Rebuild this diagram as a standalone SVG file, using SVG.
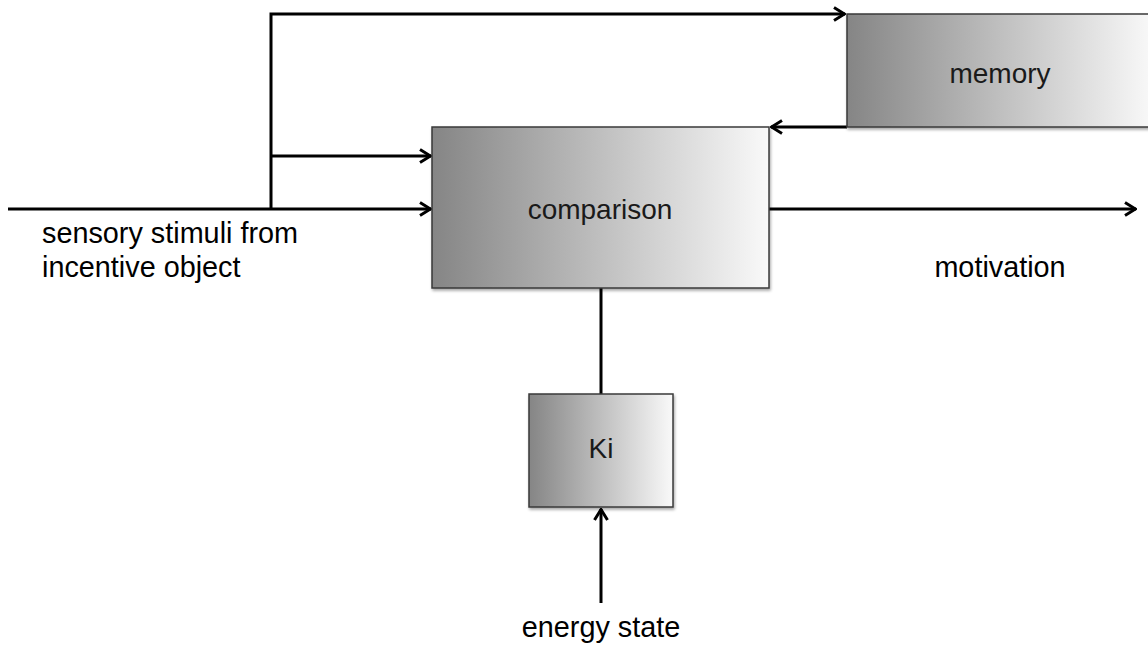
<svg xmlns="http://www.w3.org/2000/svg" width="1148" height="645" viewBox="0 0 1148 645">
<style>
.box{stroke:#3a3a3a;stroke-width:1.5;filter:url(#sh)}
.lbl{font-family:"Liberation Sans",Arial,sans-serif;font-size:28px;fill:#1a1a1a}
.txt{font-family:"Liberation Sans",Arial,sans-serif;font-size:28.8px;fill:#000}
.ln{stroke:#000;stroke-width:3;fill:none}
</style>
<defs>
<linearGradient id="g" x1="0" y1="0" x2="1" y2="0">
<stop offset="0" stop-color="#858585"/>
<stop offset="1" stop-color="#f9f9f9"/>
</linearGradient>
<filter id="sh" x="-5%" y="-5%" width="115%" height="120%">
<feGaussianBlur in="SourceAlpha" stdDeviation="1.5"/>
<feOffset dx="1" dy="2" result="b"/>
<feComponentTransfer><feFuncA type="linear" slope="0.35"/></feComponentTransfer>
<feMerge><feMergeNode/><feMergeNode in="SourceGraphic"/></feMerge>
</filter>
<marker id="ar" viewBox="0 0 14 16" refX="13" refY="8" markerWidth="14" markerHeight="16" markerUnits="userSpaceOnUse" orient="auto">
<path d="M2,1.5 L12.5,8 L2,14.5" fill="none" stroke="#000" stroke-width="3"/>
</marker>
</defs>
<g id="connectors">
<path class="ln" d="M271,209 V14 H845" marker-end="url(#ar)"/>
<path class="ln" d="M271,156 H431" marker-end="url(#ar)"/>
<path class="ln" d="M8,209 H431" marker-end="url(#ar)"/>
<path class="ln" d="M769,209 H1136" marker-end="url(#ar)"/>
<path class="ln" d="M847,127 H771" marker-end="url(#ar)"/>
<path class="ln" d="M601,288 V394"/>
<path class="ln" d="M601,603 V509" marker-end="url(#ar)"/>
</g>
<g id="memory">
<rect class="box" x="847" y="14" width="306" height="113" fill="url(#g)"/>
<text class="lbl" x="1000" y="83" text-anchor="middle">memory</text>
</g>
<g id="comparison">
<rect class="box" x="432" y="127" width="337" height="161" fill="url(#g)"/>
<text class="lbl" x="600" y="219" text-anchor="middle">comparison</text>
</g>
<g id="ki">
<rect class="box" x="529" y="394" width="144" height="113" fill="url(#g)"/>
<text class="lbl" x="601" y="458" text-anchor="middle">Ki</text>
</g>
<g id="labels">
<text class="txt" x="42" y="243">sensory stimuli from</text>
<text class="txt" x="42" y="277">incentive object</text>
<text class="txt" x="1000" y="277" text-anchor="middle">motivation</text>
<text class="txt" x="601" y="637" text-anchor="middle">energy state</text>
</g>
</svg>
